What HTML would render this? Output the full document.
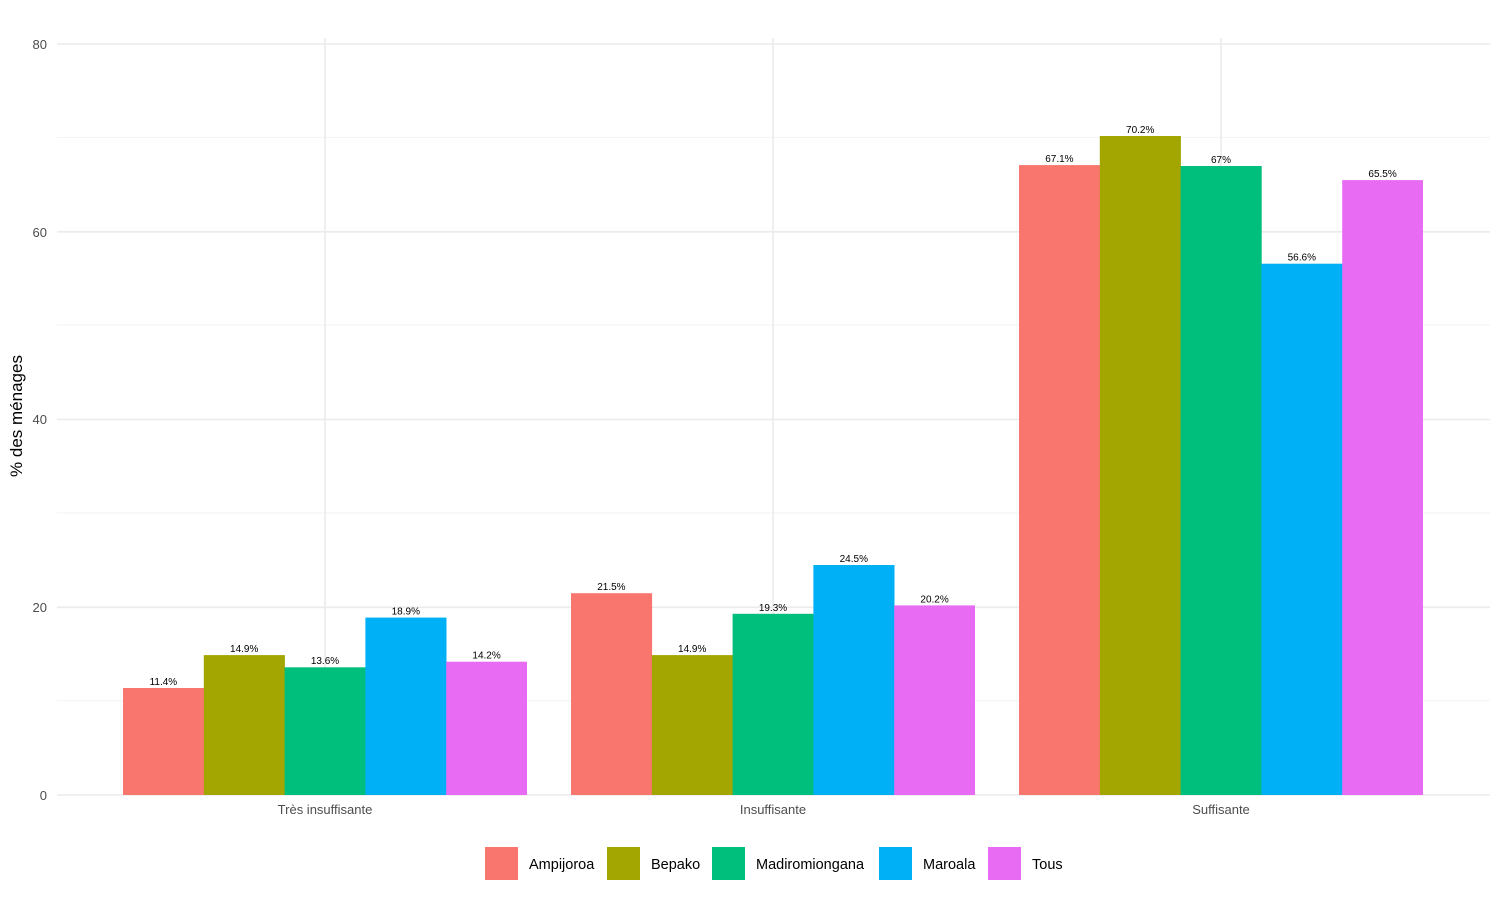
<!DOCTYPE html>
<html><head><meta charset="utf-8"><style>body{margin:0;background:#fff}svg{display:block;font-family:"Liberation Sans",Arial,sans-serif}</style></head><body>
<svg width="1500" height="900" xmlns="http://www.w3.org/2000/svg">
<g stroke="#f3f3f3" stroke-width="1">
<line x1="57" x2="1490" y1="700.6" y2="700.6"/><line x1="57" x2="1490" y1="512.9" y2="512.9"/><line x1="57" x2="1490" y1="325.1" y2="325.1"/><line x1="57" x2="1490" y1="137.4" y2="137.4"/>
</g>
<g stroke="#ebebeb" stroke-width="1.6">
<line x1="57" x2="1490" y1="795" y2="795"/><line x1="57" x2="1490" y1="607.3" y2="607.3"/><line x1="57" x2="1490" y1="419.5" y2="419.5"/><line x1="57" x2="1490" y1="231.8" y2="231.8"/><line x1="57" x2="1490" y1="44" y2="44"/>
<line x1="325" x2="325" y1="38" y2="795"/><line x1="773" x2="773" y1="38" y2="795"/><line x1="1221" x2="1221" y1="38" y2="795"/>
</g>
<g font-size="13" fill="#4d4d4d" text-anchor="end">
<text x="47" y="800">0</text><text x="47" y="612">20</text><text x="47" y="424">40</text><text x="47" y="237">60</text><text x="47" y="49">80</text>
</g>
<g font-size="13" fill="#4d4d4d" text-anchor="middle">
<text x="325" y="814">Très insuffisante</text><text x="773" y="814">Insuffisante</text><text x="1221" y="814">Suffisante</text>
</g>
<text transform="translate(22,416) rotate(-90)" font-size="17" text-anchor="middle" fill="#000">% des ménages</text>
<g>
<rect x="123" y="688.0" width="81.1" height="107.0" fill="#F8766D"/>
<rect x="203.8" y="655.1" width="81.1" height="139.9" fill="#A3A500"/>
<rect x="284.6" y="667.3" width="81.1" height="127.7" fill="#00BF7D"/>
<rect x="365.4" y="617.6" width="81.1" height="177.4" fill="#00B0F6"/>
<rect x="446.2" y="661.7" width="80.8" height="133.3" fill="#E76BF3"/>
<rect x="571" y="593.2" width="81.1" height="201.8" fill="#F8766D"/>
<rect x="651.8" y="655.1" width="81.1" height="139.9" fill="#A3A500"/>
<rect x="732.6" y="613.8" width="81.1" height="181.2" fill="#00BF7D"/>
<rect x="813.4" y="565.0" width="81.1" height="230.0" fill="#00B0F6"/>
<rect x="894.2" y="605.4" width="80.8" height="189.6" fill="#E76BF3"/>
<rect x="1019" y="165.1" width="81.1" height="629.9" fill="#F8766D"/>
<rect x="1099.8" y="136.0" width="81.1" height="659.0" fill="#A3A500"/>
<rect x="1180.6" y="166.0" width="81.1" height="629.0" fill="#00BF7D"/>
<rect x="1261.4" y="263.7" width="81.1" height="531.3" fill="#00B0F6"/>
<rect x="1342.2" y="180.1" width="80.8" height="614.9" fill="#E76BF3"/>
</g>
<g font-size="10" text-anchor="middle" fill="#000">
<text x="163.4" y="685">11.4%</text><text x="244.2" y="652">14.9%</text><text x="325" y="664">13.6%</text><text x="405.8" y="614.6">18.9%</text><text x="486.6" y="658.7">14.2%</text>
<text x="611.4" y="590.2">21.5%</text><text x="692.2" y="652">14.9%</text><text x="773" y="610.8">19.3%</text><text x="853.8" y="562">24.5%</text><text x="934.6" y="602.4">20.2%</text>
<text x="1059.4" y="162.1">67.1%</text><text x="1140.2" y="133">70.2%</text><text x="1221" y="163">67%</text><text x="1301.8" y="260.7">56.6%</text><text x="1382.6" y="177.1">65.5%</text>
</g>
<g font-size="14.5" fill="#000">
<rect x="485" y="847" width="33" height="33" fill="#F8766D"/><text x="529" y="869">Ampijoroa</text>
<rect x="607" y="847" width="33" height="33" fill="#A3A500"/><text x="651" y="869">Bepako</text>
<rect x="712" y="847" width="33" height="33" fill="#00BF7D"/><text x="756" y="869">Madiromiongana</text>
<rect x="879" y="847" width="33" height="33" fill="#00B0F6"/><text x="923" y="869">Maroala</text>
<rect x="988" y="847" width="33" height="33" fill="#E76BF3"/><text x="1032" y="869">Tous</text>
</g>
</svg>
</body></html>
